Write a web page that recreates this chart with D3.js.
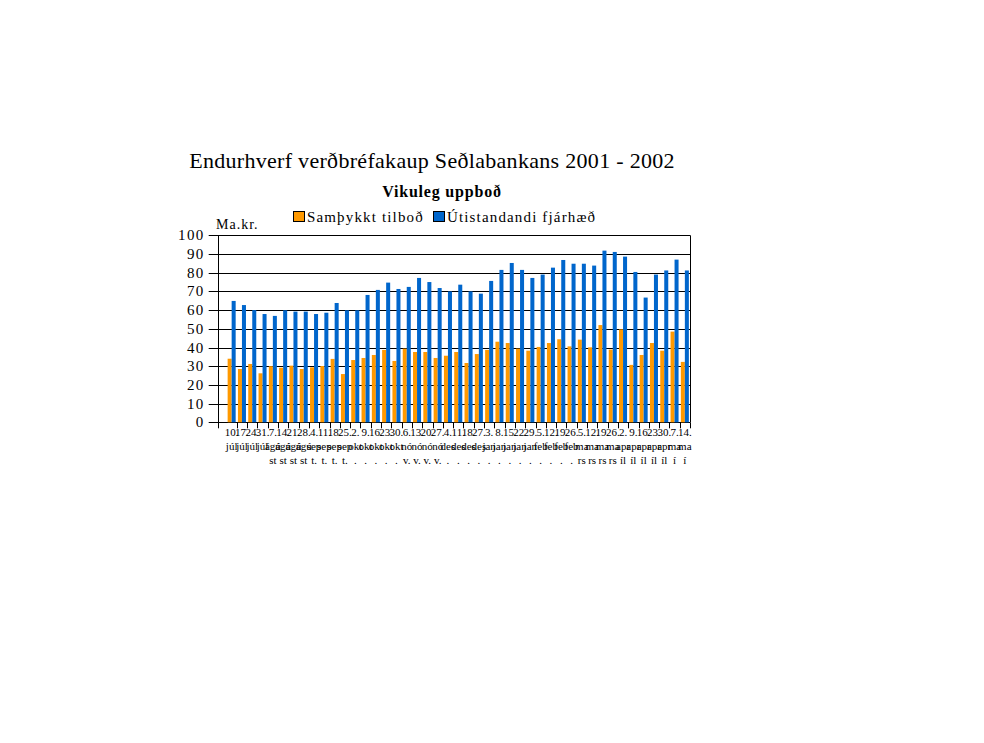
<!DOCTYPE html>
<html>
<head>
<meta charset="utf-8">
<script src="https://cdn.jsdelivr.net/npm/d3@7"></script>
<style>
  body { margin: 0; background: #fff; }
  svg { display: block; font-family: "Liberation Serif", "Times New Roman", serif; }
</style>
</head>
<body>
<svg id="graf" width="984" height="743"></svg>
<script>
// vikuleg uppboð, júl 2001 - maí 2002
const dagar = [10, 17, 24, 31, 7, 14, 21, 28, 4, 11, 18, 25, 2, 9, 16, 23, 30, 6, 13, 20, 27, 4, 11, 18, 27,
  3, 8, 15, 22, 29, 5, 12, 19, 26, 5, 12, 19, 26, 2, 9, 16, 23, 30, 7, 14];
const manudir = ['júl', 'júl', 'júl', 'júl', 'ágúst', 'ágúst', 'ágúst', 'ágúst', 'sept.', 'sept.', 'sept.', 'sept.',
  'okt.', 'okt.', 'okt.', 'okt.', 'okt.', 'nóv.', 'nóv.', 'nóv.', 'nóv.', 'des.', 'des.', 'des.', 'des.',
  'jan.', 'jan.', 'jan.', 'jan.', 'jan.', 'feb.', 'feb.', 'feb.', 'feb.', 'mars', 'mars', 'mars', 'mars',
  'apríl', 'apríl', 'apríl', 'apríl', 'apríl', 'maí', 'maí'];
// hvernig mánaðarheitin brotna í tvær línur
const manudaLinur = {'júl': ['júl', ''], 'ágúst': ['ágú', 'st'], 'sept.': ['sep', 't.'], 'okt.': ['okt', '.'],
  'nóv.': ['nó', 'v.'], 'des.': ['des', '.'], 'jan.': ['jan', '.'], 'feb.': ['feb', '.'],
  'mars': ['ma', 'rs'], 'apríl': ['apr', 'íl'], 'maí': ['ma', 'í']};

const samthykkt = [34, 28.5, 31.2, 26.2, 30, 29.2, 30.3, 28.5, 29.4, 30.1,
  33.9, 25.8, 33.3, 34.4, 36, 38.7, 32.8, 39.4, 37.6, 37.6, 34.4, 35.6,
  37.6, 31.7, 36.5, 38.7, 43.1, 42.4, 39.4, 38.3, 40.3, 42.4, 44.4,
  40.6, 44.2, 40.1, 52, 38.9, 49.7, 30.7, 36, 42.4, 38.3, 48.5, 32.3];
const utistandandi = [64.9, 62.7, 60, 57.9, 56.9, 59.9, 59.2, 59.2, 57.9, 58.6,
  63.8, 59.9, 59.9, 68.1, 70.8, 74.7, 71.3, 72.4, 77.2, 75, 71.8, 70,
  73.6, 70, 68.8, 75.6, 81.5, 85.2, 81.5, 77.2, 79, 82.7, 86.8,
  84.8, 84.8, 83.8, 91.8, 91.1, 88.6, 80.4, 66.7, 79, 81.2, 87, 81.2];

const radir = ['Samþykkt tilboð', 'Útistandandi fjárhæð'];
const litir = ['#FF9900', '#0066CC'];
const yTikk = [0, 10, 20, 30, 40, 50, 60, 70, 80, 90, 100];

var marge = {haut: 235.3, droite: 294, bas: 320.7, gauche: 217.7};
var largeur = 984, hauteur = 743;
var innriBil = 8.8; // autt bil vinstra megin í teiknisvæði

const svg = d3.select('#graf');
const lyklar = dagar.map((d, i) => i);
const tafla = lyklar.map(i => ({i: i, gildi: [samthykkt[i], utistandandi[i]]}));

var xScale = d3.scaleBand().domain(lyklar)
  .range([marge.gauche + innriBil, largeur - marge.droite]).paddingInner(0.22).paddingOuter(0.11);
var xRod = d3.scaleBand().domain([0, 1]).range([0, xScale.bandwidth()]);
var yScale = d3.scaleLinear().domain([0, 100]).range([hauteur - marge.bas, marge.haut]);

const x0 = marge.gauche, x1 = largeur - marge.droite;
const yb = hauteur - marge.bas;

// titlar
svg.append('text').attr('x', 432).attr('y', 168).attr('text-anchor', 'middle')
  .style('font-size', '22px').style('letter-spacing', '0.3px')
  .text('Endurhverf verðbréfakaup Seðlabankans 2001 - 2002');
svg.append('text').attr('x', 442).attr('y', 197).attr('text-anchor', 'middle')
  .style('font-size', '16px').style('font-weight', 'bold').style('letter-spacing', '0.8px')
  .text('Vikuleg uppboð');
svg.append('text').attr('x', 216).attr('y', 229).style('font-size', '14px')
  .style('letter-spacing', '1px').text('Ma.kr.');

// lykill
const lykill = svg.append('g').attr('transform', 'translate(293,211)');
const lx = [0, 140];
radir.forEach((r, k) => {
  lykill.append('rect').attr('x', lx[k] + 0.5).attr('y', 0.5).attr('width', 11).attr('height', 10)
    .attr('fill', litir[k]).attr('stroke', '#000').attr('stroke-width', 1);
  lykill.append('text').attr('x', lx[k] + 14).attr('y', 11).style('font-size', '15px')
    .style('letter-spacing', '1.15px').text(r);
});

// netlínur og y-ás
const yAs = svg.append('g');
yAs.selectAll('line.net').data(yTikk).enter().append('line').attr('class', 'net')
  .attr('x1', x0 - 9).attr('x2', x1)
  .attr('y1', d => Math.round(yScale(d)) + 0.5).attr('y2', d => Math.round(yScale(d)) + 0.5)
  .attr('stroke', '#000').attr('stroke-width', 1);
yAs.selectAll('text').data(yTikk).enter().append('text')
  .attr('x', 204.5).attr('y', d => yScale(d) + 5).attr('text-anchor', 'end')
  .style('font-size', '15px').style('letter-spacing', '1.3px').text(d => d);

// súlur
const hopar = svg.append('g').selectAll('g').data(tafla).enter().append('g')
  .attr('transform', d => `translate(${xScale(d.i)},0)`);
hopar.selectAll('rect').data(d => d.gildi).enter().append('rect')
  .attr('x', (d, k) => xRod(k)).attr('width', xRod.bandwidth())
  .attr('y', d => yScale(d)).attr('height', d => yScale(0) - yScale(d))
  .attr('fill', (d, k) => litir[k]);

// rammi og x-ás
svg.append('line').attr('x1', Math.round(x0) + 0.5).attr('x2', Math.round(x0) + 0.5)
  .attr('y1', marge.haut).attr('y2', yb).attr('stroke', '#000');
svg.append('line').attr('x1', Math.round(x1) + 0.5).attr('x2', Math.round(x1) + 0.5)
  .attr('y1', marge.haut).attr('y2', yb).attr('stroke', '#000');
const skref = xScale.step();
const tikkX = [x0].concat(lyklar.map(i => xScale(i) - skref * xScale.paddingInner() / 2 + skref));
svg.append('g').selectAll('line').data(tikkX).enter().append('line')
  .attr('x1', d => Math.round(d) + 0.5).attr('x2', d => Math.round(d) + 0.5)
  .attr('y1', yb).attr('y2', yb + 6).attr('stroke', '#000');

// flokkamerki
const merki = svg.append('g').style('font-size', '11px').attr('text-anchor', 'middle');
lyklar.forEach(i => {
  const cx = xScale(i) + xScale.bandwidth() / 2;
  const l = manudaLinur[manudir[i]];
  const t = merki.append('text').attr('x', cx);
  t.append('tspan').attr('x', cx).attr('y', yb + 14).text(dagar[i] + '.');
  t.append('tspan').attr('x', cx).attr('y', yb + 28).text(l[0]);
  t.append('tspan').attr('x', cx).attr('y', yb + 42).text(l[1]);
});
</script>
</body>
</html>
